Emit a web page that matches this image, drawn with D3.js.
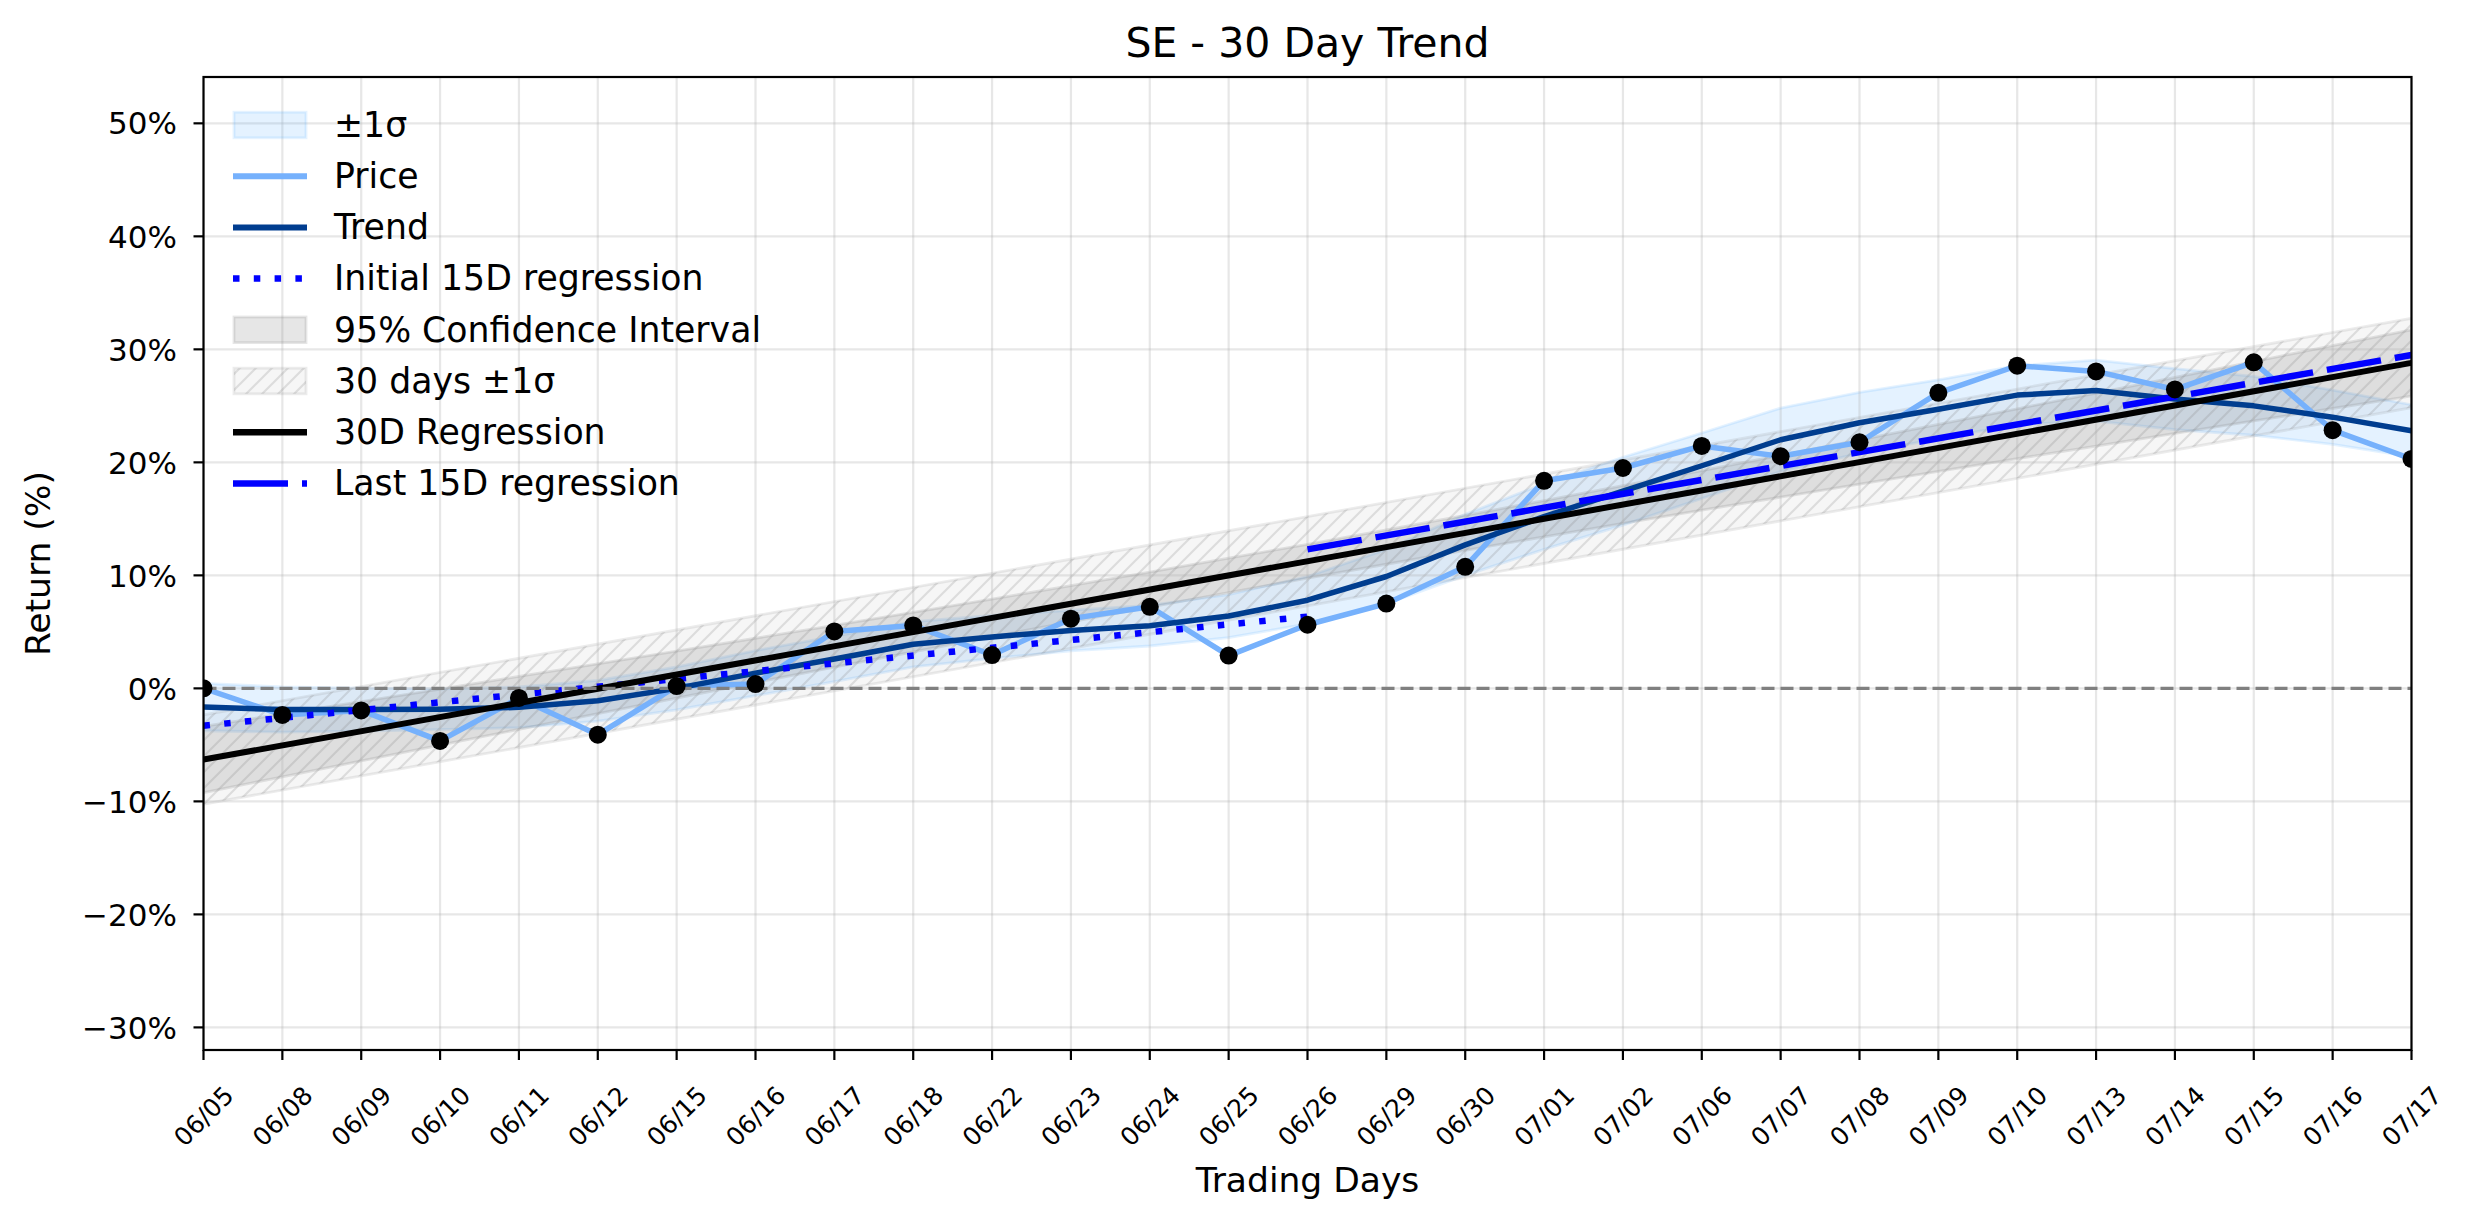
<!DOCTYPE html>
<html lang="en">
<head>
<meta charset="UTF-8">
<title>SE - 30 Day Trend</title>
<script src="https://cdn.jsdelivr.net/npm/d3@7"></script>
<style>
  body { margin: 0; background: #fff; }
  text { font-family: "DejaVu Sans", sans-serif; fill: #000; }
</style>
</head>
<body>
<script>
    // trading days on the x axis
    const dates = ['06/05', '06/08', '06/09', '06/10', '06/11', '06/12', '06/15', '06/16', '06/17', '06/18',
        '06/22', '06/23', '06/24', '06/25', '06/26', '06/29', '06/30', '07/01', '07/02', '07/06',
        '07/07', '07/08', '07/09', '07/10', '07/13', '07/14', '07/15', '07/16', '07/17']
    // cumulative return (%)
    const price = [0, -2.35, -1.95, -4.65, -0.85, -4.1, 0.2, 0.38, 5.04, 5.57,
        2.95, 6.17, 7.22, 2.9, 5.63, 7.5, 10.76, 18.37, 19.5, 21.45,
        20.54, 21.78, 26.15, 28.55, 28.05, 26.45, 28.85, 22.85, 20.3]
    // smoothed trend and its +-1 sigma half width
    const trend = [-1.65, -1.88, -1.88, -1.85, -1.68, -1.1, 0.0, 1.35, 2.6, 3.9,
        4.55, 5.12, 5.55, 6.4, 7.8, 9.9, 12.7, 15.2, 17.45, 19.7,
        22.0, 23.5, 24.7, 25.95, 26.35, 25.6, 25.0, 24.0, 22.8]
    const sigmaHalf = [2.1, 2.0, 1.9, 1.8, 1.8, 1.8, 1.9, 2.0, 2.0, 2.0,
        1.9, 1.8, 1.8, 1.9, 2.1, 2.4, 2.7, 2.9, 3.0, 2.9,
        2.8, 2.7, 2.6, 2.6, 2.7, 2.7, 2.6, 2.4, 2.3]
    // 95% confidence half width around the 30D regression
    const ciHalf = [2.93, 2.78, 2.63, 2.48, 2.34, 2.21, 2.08, 1.96, 1.85, 1.75,
        1.67, 1.6, 1.55, 1.52, 1.5, 1.52, 1.55, 1.6, 1.67, 1.75,
        1.85, 1.96, 2.08, 2.21, 2.34, 2.48, 2.63, 2.78, 2.93]
    // regression lines: [value at first day, value at last day]
    const reg30 = [-6.3, 28.8]
    const sigma30 = 3.95
    const regFirst15 = [-3.3, 6.35]   // days 0..14
    const regLast15 = [12.3, 29.5]    // days 14..28
    const yTicks = [-30, -20, -10, 0, 10, 20, 30, 40, 50]
    const legendLabels = ['±1σ', 'Price', 'Trend', 'Initial 15D regression', '95% Confidence Interval',
        '30 days ±1σ', '30D Regression', 'Last 15D regression']

    const [width, height] = [2474, 1224]
    const m = {left: 203.5, right: 2411.5, top: 77, bottom: 1050}
    const n = dates.length
    const x = d3.scaleLinear().domain([0, n - 1]).range([m.left, m.right])
    const y = d3.scaleLinear().domain([-32.0, 54.1]).range([m.bottom, m.top])
    const regLine = d3.scaleLinear().domain([0, n - 1]).range(reg30)

    const col = {price: '#76b1fc', trend: '#003d8f', blue: '#0000ff', band: '#4da6ff', grey: '#808080'}

    const svg = d3.select('body').append('svg')
        .attr('width', width).attr('height', height)
    svg.append('rect').attr('width', width).attr('height', height).attr('fill', '#fff')

    const defs = svg.append('defs')
    defs.append('clipPath').attr('id', 'plot')
        .append('rect').attr('x', m.left).attr('y', m.top)
        .attr('width', m.right - m.left).attr('height', m.bottom - m.top)
    const pat = defs.append('pattern').attr('id', 'hatch')
        .attr('patternUnits', 'userSpaceOnUse').attr('width', 16).attr('height', 16)
    pat.append('path').attr('d', 'M-4,4 L4,-4 M0,16 L16,0 M12,20 L20,12')
        .attr('stroke', col.grey).attr('stroke-opacity', 0.22).attr('stroke-width', 2.2)

    const g = svg.append('g').attr('clip-path', 'url(#plot)')
    const idx = d3.range(n)

    // fills
    const sigArea = d3.area().x(i => x(i)).y0(i => y(trend[i] - sigmaHalf[i])).y1(i => y(trend[i] + sigmaHalf[i]))
    g.append('path').attr('d', sigArea(idx))
        .attr('fill', col.band).attr('fill-opacity', 0.15)
        .attr('stroke', col.band).attr('stroke-opacity', 0.15).attr('stroke-width', 2.8)

    const ciArea = d3.area().x(i => x(i)).y0(i => y(regLine(i) - ciHalf[i])).y1(i => y(regLine(i) + ciHalf[i]))
    g.append('path').attr('d', ciArea(idx))
        .attr('fill', col.grey).attr('fill-opacity', 0.2)
        .attr('stroke', col.grey).attr('stroke-opacity', 0.2).attr('stroke-width', 2.8)

    const hatchArea = d3.area().x(i => x(i)).y0(i => y(regLine(i) - sigma30)).y1(i => y(regLine(i) + sigma30))
    g.append('path').attr('d', hatchArea([0, n - 1]))
        .attr('fill', col.grey).attr('fill-opacity', 0.07)
    g.append('path').attr('d', hatchArea([0, n - 1]))
        .attr('fill', 'url(#hatch)')
        .attr('stroke', col.grey).attr('stroke-opacity', 0.15).attr('stroke-width', 2.8)

    // grid
    g.selectAll('line.vgrid').data(idx).enter().append('line').attr('class', 'vgrid')
        .attr('x1', i => x(i)).attr('x2', i => x(i)).attr('y1', m.top).attr('y2', m.bottom)
        .attr('stroke', '#b0b0b0').attr('stroke-opacity', 0.3).attr('stroke-width', 2.2)
    g.selectAll('line.hgrid').data(yTicks).enter().append('line').attr('class', 'hgrid')
        .attr('x1', m.left).attr('x2', m.right).attr('y1', d => y(d)).attr('y2', d => y(d))
        .attr('stroke', '#b0b0b0').attr('stroke-opacity', 0.3).attr('stroke-width', 2.2)

    // lines
    const line = d3.line().x(d => x(d[0])).y(d => y(d[1]))
    const addLine = (pts, stroke, w, dash) => g.append('path').attr('d', line(pts))
        .attr('fill', 'none').attr('stroke', stroke).attr('stroke-width', w)
        .attr('stroke-dasharray', dash || null).attr('stroke-linejoin', 'round')

    addLine(idx.map(i => [i, price[i]]), col.price, 5.5)
    addLine(idx.map(i => [i, trend[i]]), col.trend, 5.5)
    addLine([[0, regFirst15[0]], [14, regFirst15[1]]], col.blue, 6.5, '6.5,14.3')
    addLine([[0, reg30[0]], [n - 1, reg30[1]]], '#000', 6)
    addLine([[14, regLast15[0]], [n - 1, regLast15[1]]], col.blue, 6.5, '55,14')
    addLine([[0, 0], [n - 1, 0]], col.grey, 3.4, '13,6')

    g.selectAll('circle.pt').data(idx).enter().append('circle').attr('class', 'pt')
        .attr('cx', i => x(i)).attr('cy', i => y(price[i])).attr('r', 9).attr('fill', '#000')

    // spines and ticks
    svg.append('rect').attr('x', m.left).attr('y', m.top)
        .attr('width', m.right - m.left).attr('height', m.bottom - m.top)
        .attr('fill', 'none').attr('stroke', '#000').attr('stroke-width', 2.2)

    svg.selectAll('line.ytick').data(yTicks).enter().append('line').attr('class', 'ytick')
        .attr('x1', m.left - 10).attr('x2', m.left).attr('y1', d => y(d)).attr('y2', d => y(d))
        .attr('stroke', '#000').attr('stroke-width', 2.2)
    svg.selectAll('text.ytick').data(yTicks).enter().append('text').attr('class', 'ytick')
        .attr('x', 177).attr('y', d => y(d)).attr('dy', '0.36em')
        .attr('text-anchor', 'end').attr('font-size', 31)
        .text(d => (d + '%').replace('-', '\u2212'))

    svg.selectAll('line.xtick').data(idx).enter().append('line').attr('class', 'xtick')
        .attr('x1', i => x(i)).attr('x2', i => x(i)).attr('y1', m.bottom).attr('y2', m.bottom + 10)
        .attr('stroke', '#000').attr('stroke-width', 2.2)
    svg.selectAll('text.xtick').data(idx).enter().append('text').attr('class', 'xtick')
        .attr('transform', i => `translate(${x(i)},1116) rotate(-45)`)
        .attr('text-anchor', 'middle').attr('dy', '0.36em').attr('font-size', 25)
        .text(i => dates[i])

    svg.append('text').attr('x', (m.left + m.right) / 2).attr('y', 1192)
        .attr('text-anchor', 'middle').attr('font-size', 34.5).text('Trading Days')
    svg.append('text').attr('transform', `translate(50,${(m.top + m.bottom) / 2}) rotate(-90)`)
        .attr('text-anchor', 'middle').attr('font-size', 34.5).text('Return (%)')
    svg.append('text').attr('x', (m.left + m.right) / 2).attr('y', 57)
        .attr('text-anchor', 'middle').attr('font-size', 41).text('SE - 30 Day Trend')

    // legend
    const leg = svg.append('g')
    const rowY = i => 125 + i * 51.2
    const hx0 = 233, hx1 = 307
    const patch = (i, fill, op, stroke, sop) => leg.append('rect')
        .attr('x', hx0 + 1).attr('y', rowY(i) - 12.8).attr('width', hx1 - hx0 - 2).attr('height', 25.6)
        .attr('fill', fill).attr('fill-opacity', op)
        .attr('stroke', stroke).attr('stroke-opacity', sop).attr('stroke-width', 2.8)
    const hline = (i, stroke, w, dash) => leg.append('line')
        .attr('x1', hx0).attr('x2', hx1).attr('y1', rowY(i)).attr('y2', rowY(i))
        .attr('stroke', stroke).attr('stroke-width', w).attr('stroke-dasharray', dash || null)

    patch(0, col.band, 0.15, col.band, 0.15)
    hline(1, col.price, 6)
    hline(2, col.trend, 6)
    hline(3, col.blue, 6.5, '6.5,14.3')
    patch(4, col.grey, 0.2, col.grey, 0.2)
    patch(5, col.grey, 0.07, col.grey, 0.15)
    leg.append('rect').attr('x', hx0 + 1).attr('y', rowY(5) - 12.8).attr('width', hx1 - hx0 - 2).attr('height', 25.6)
        .attr('fill', 'url(#hatch)')
    hline(6, '#000', 6.5)
    hline(7, col.blue, 6.5, '55,14')

    leg.selectAll('text').data(legendLabels).enter().append('text')
        .attr('x', 334).attr('y', (d, i) => rowY(i) + 11.8)
        .attr('font-size', 34.7).text(d => d)
</script>
</body>
</html>
